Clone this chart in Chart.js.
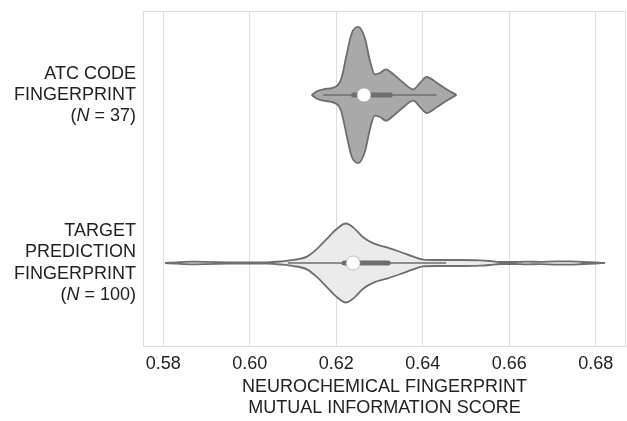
<!DOCTYPE html>
<html><head><meta charset="utf-8">
<script src="https://cdn.jsdelivr.net/npm/chart.js@4.4.0/dist/chart.umd.min.js"></script>
<style>html,body{margin:0;padding:0;background:#fff}</style>
</head><body>
<canvas id="c" width="627" height="421"></canvas>
<script>
// ---- data ----
const categories = [
  ["ATC CODE", "FINGERPRINT", "(N = 37)"],
  ["TARGET", "PREDICTION", "FINGERPRINT", "(N = 100)"]
];
const xTicks = [0.58, 0.60, 0.62, 0.64, 0.66, 0.68];
const xTitle = ["NEUROCHEMICAL FINGERPRINT", "MUTUAL INFORMATION SCORE"];

// violin outline: score values and half-widths (in category units)
const atcX  = [0.6143, 0.6155, 0.6170, 0.6201, 0.6212, 0.6224, 0.6236, 0.6251, 0.6266, 0.6278, 0.6289, 0.6301, 0.6315, 0.6332, 0.6355, 0.6378, 0.6394, 0.6409, 0.6432, 0.6455, 0.6478];
const atcHW = [0, 0.022, 0.034, 0.054, 0.101, 0.242, 0.369, 0.405, 0.339, 0.202, 0.123, 0.131, 0.153, 0.123, 0.073, 0.034, 0.073, 0.107, 0.073, 0.034, 0];

const targetX  = [0.5804, 0.5830, 0.5870, 0.5900, 0.5950, 0.6000, 0.6040, 0.6070, 0.6101, 0.6132, 0.6155, 0.6178, 0.6201, 0.6222, 0.6239, 0.6262, 0.6286, 0.6317, 0.6347, 0.6378, 0.6401, 0.6432, 0.6455, 0.6486, 0.6532, 0.6555, 0.6578, 0.6610, 0.6640, 0.6670, 0.6710, 0.6740, 0.6770, 0.6800, 0.6821];
const targetHW = [0, 0.004, 0.008, 0.007, 0.004, 0.003, 0.004, 0.009, 0.018, 0.038, 0.083, 0.143, 0.202, 0.235, 0.212, 0.153, 0.117, 0.093, 0.067, 0.038, 0.020, 0.018, 0.018, 0.018, 0.016, 0.012, 0.006, 0.006, 0.008, 0.007, 0.010, 0.010, 0.006, 0.003, 0];

// inner box: [whiskerLo, q1, median, q3, whiskerHi]
const atcBox    = [0.6170, 0.6240, 0.6264, 0.6325, 0.6432];
const targetBox = [0.6088, 0.6218, 0.6239, 0.6320, 0.6454];

const fills = ["#a9a9a9", "#ebebeb"];
const lineGray = "#6e6e6e";
const FONT = "'Liberation Sans', Arial, Helvetica, sans-serif";

// ---- build datasets ----
const datasets = [];
function addViolin(xs, hws, cat, fill) {
  datasets.push({
    data: xs.map((x, i) => ({x: x, y: cat - hws[i]})),
    showLine: true, fill: '+1', backgroundColor: fill,
    borderColor: lineGray, borderWidth: 1.8, pointRadius: 0,
    cubicInterpolationMode: 'monotone', order: 10
  });
  datasets.push({
    data: xs.map((x, i) => ({x: x, y: cat + hws[i]})),
    showLine: true, fill: false,
    borderColor: lineGray, borderWidth: 1.8, pointRadius: 0,
    cubicInterpolationMode: 'monotone', order: 9
  });
}
function addBox(b, cat) {
  datasets.push({
    data: [{x: b[0], y: cat}, {x: b[4], y: cat}],
    showLine: true, borderColor: lineGray, borderWidth: 1.7, pointRadius: 0, order: 5
  });
  datasets.push({
    data: [{x: b[1], y: cat}, {x: b[3], y: cat}],
    showLine: true, borderColor: lineGray, borderWidth: 5, borderCapStyle: 'round',
    pointRadius: 0, order: 4
  });
  datasets.push({
    data: [{x: b[2], y: cat}],
    showLine: false, pointRadius: 7, pointBackgroundColor: '#ffffff',
    pointBorderColor: '#9a9a9a', pointBorderWidth: 0.6, order: 1
  });
}
addViolin(atcX, atcHW, 0, fills[0]);
addViolin(targetX, targetHW, 1, fills[1]);
addBox(atcBox, 0);
addBox(targetBox, 1);

const framePlugin = {
  id: 'frame',
  beforeDatasetsDraw(chart) {
    const {ctx, chartArea: a} = chart;
    ctx.save();
    ctx.strokeStyle = '#dddddd';
    ctx.lineWidth = 1;
    ctx.strokeRect(a.left + 0.5, a.top + 0.5, a.right - a.left - 1, a.bottom - a.top - 1);
    ctx.restore();
  }
};

const yLabelPlugin = {
  id: 'ylabels',
  afterDraw(chart) {
    const {ctx, chartArea: a, scales: {y}} = chart;
    const xr = a.left - 7;
    const pitch = 21.4;
    ctx.save();
    ctx.fillStyle = '#222';
    ctx.textBaseline = 'middle';
    ctx.textAlign = 'left';
    categories.forEach((lines, ci) => {
      const yc = y.getPixelForValue(ci);
      const y0 = yc - pitch * (lines.length - 1) / 2;
      lines.forEach((line, li) => {
        const yy = y0 + li * pitch;
        const normal = '18px ' + FONT;
        const italic = 'italic 18px ' + FONT;
        if (line.startsWith('(N =')) {
          const p1 = '(', p2 = 'N', p3 = line.slice(2);
          ctx.font = normal; const w1 = ctx.measureText(p1).width, w3 = ctx.measureText(p3).width;
          ctx.font = italic; const w2 = ctx.measureText(p2).width;
          let x = xr - (w1 + w2 + w3);
          ctx.font = normal; ctx.fillText(p1, x, yy); x += w1;
          ctx.font = italic; ctx.fillText(p2, x, yy); x += w2;
          ctx.font = normal; ctx.fillText(p3, x, yy);
        } else {
          ctx.font = normal;
          const w = ctx.measureText(line).width;
          ctx.fillText(line, xr - w, yy);
        }
      });
    });
    ctx.restore();
  }
};

new Chart(document.getElementById('c'), {
  type: 'scatter',
  data: {datasets},
  plugins: [framePlugin, yLabelPlugin],
  options: {
    responsive: false,
    animation: false,
    layout: {autoPadding: false, padding: {top: 11, right: 1, left: 0, bottom: 0}},
    plugins: {legend: {display: false}, tooltip: {enabled: false}},
    scales: {
      x: {
        type: 'linear', min: 0.5753, max: 0.6870,
        afterBuildTicks(s) { s.ticks = xTicks.map(v => ({value: v})); },
        afterFit(s) { s.height = 74; s.paddingRight = 0; s.paddingLeft = 0; },
        grid: {color: '#dddddd', lineWidth: 1, drawTicks: false},
        border: {display: false},
        ticks: {padding: 6, color: '#222', font: {family: FONT, size: 18},
                callback: v => Number(v).toFixed(2), maxRotation: 0, autoSkip: false},
        title: {display: true, text: xTitle, color: '#222',
                font: {family: FONT, size: 18, lineHeight: 1.2}, padding: {top: 0, bottom: 2}}
      },
      y: {
        type: 'linear', min: -0.5, max: 1.5, reverse: true,
        afterFit(s) { s.width = 143; },
        grid: {display: false},
        border: {display: false},
        ticks: {display: false}
      }
    }
  }
});
</script>
</body></html>
